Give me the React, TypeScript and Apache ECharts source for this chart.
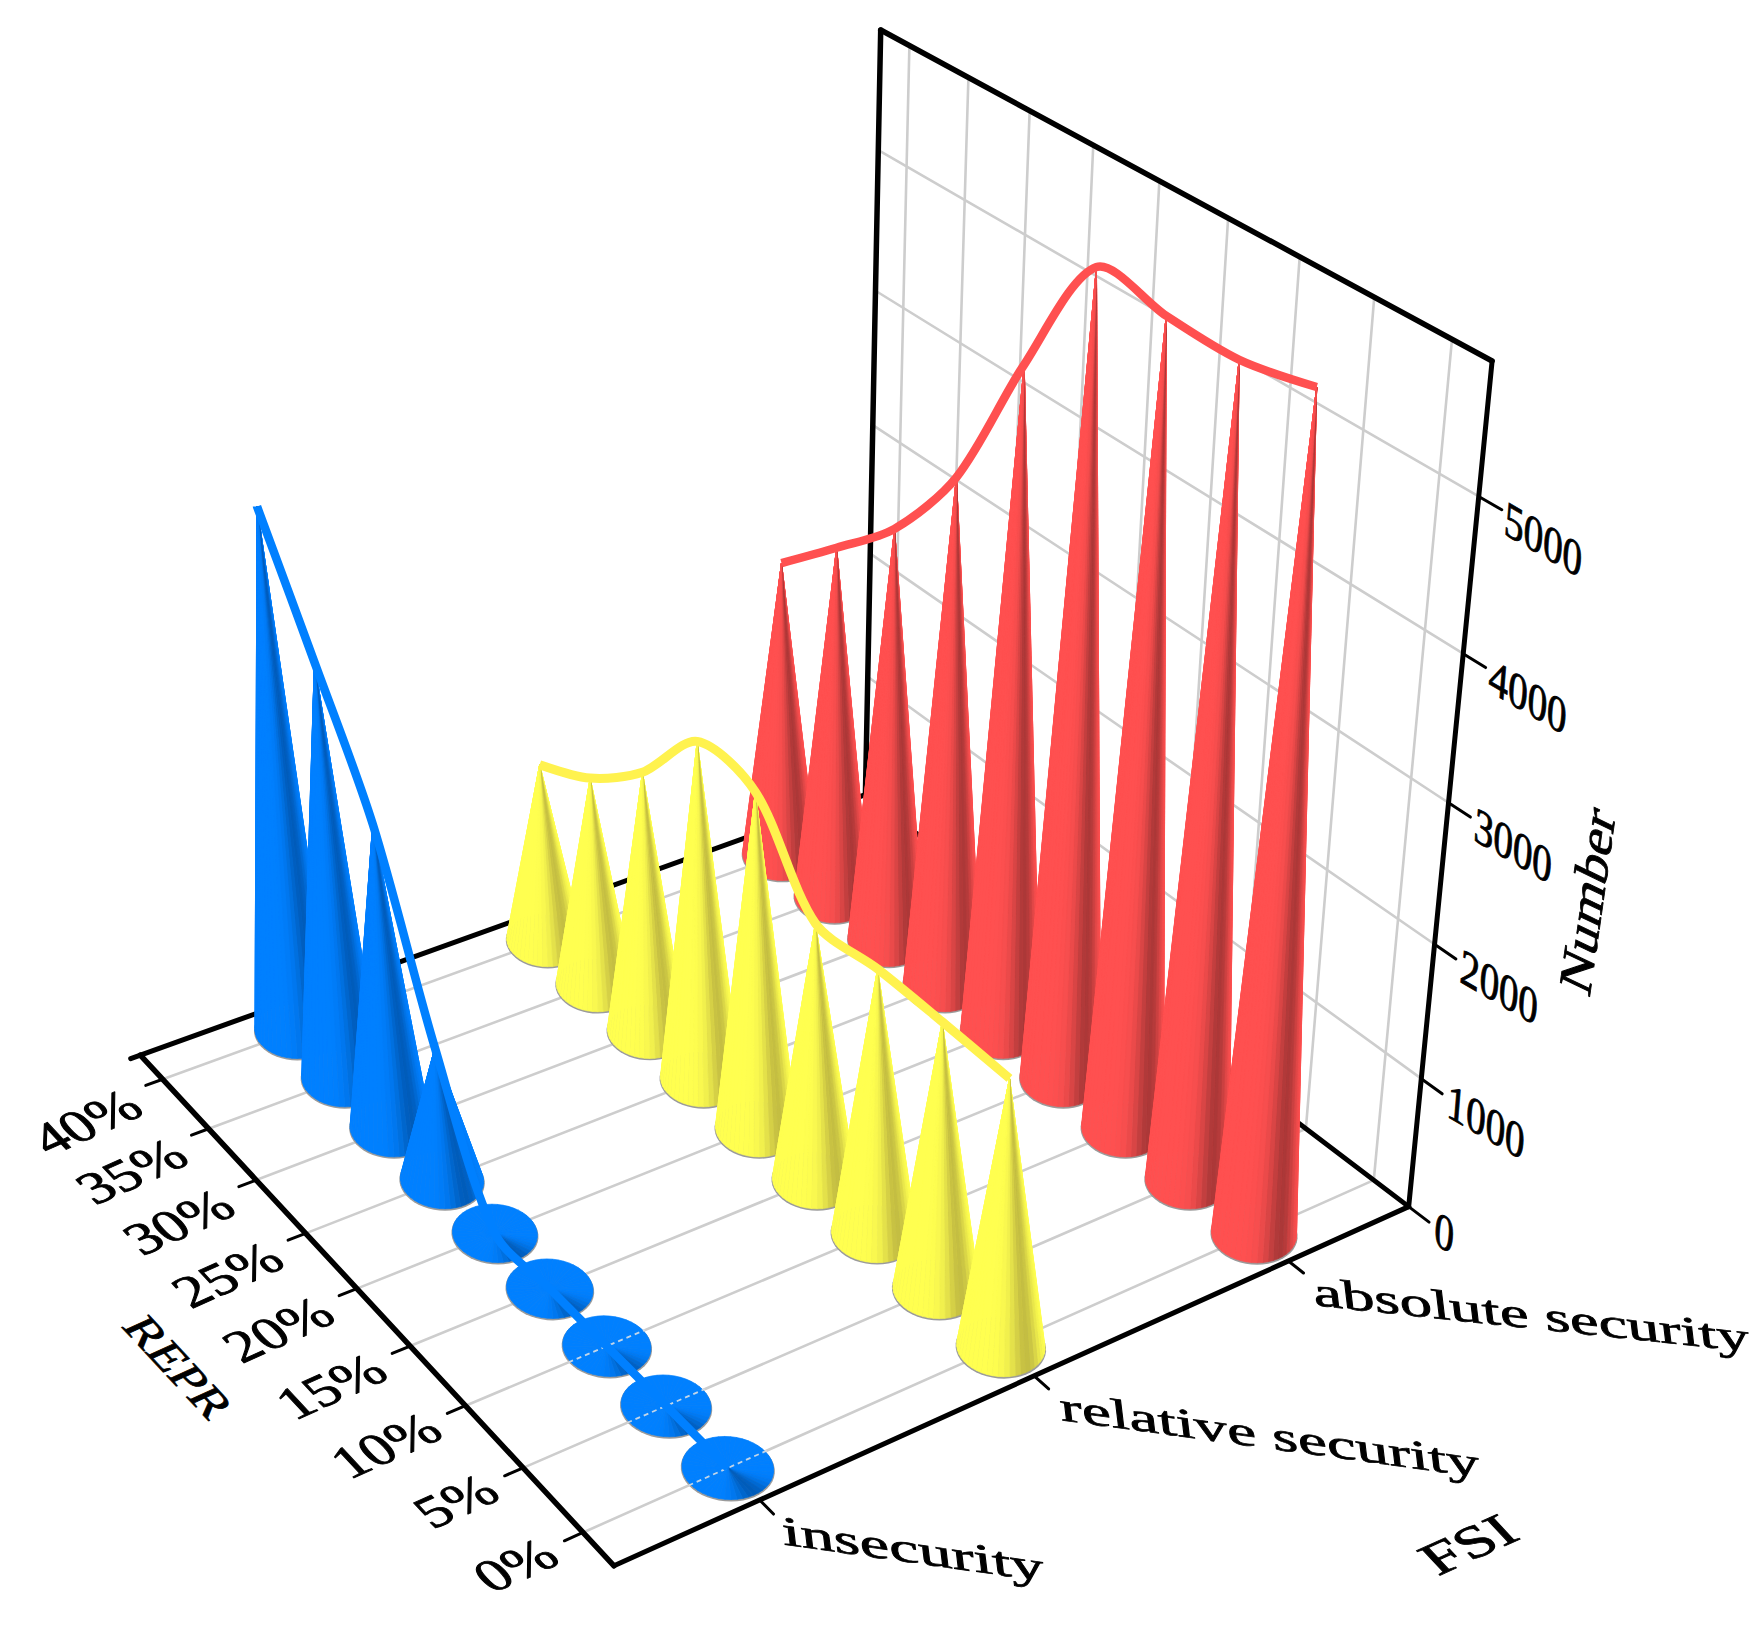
import React, { useEffect, useRef } from "react";
import * as echarts from "echarts";

// ---------- data ----------
const fsiCategories = ["insecurity", "relative security", "absolute security"];
const reprCategories = ["0%", "5%", "10%", "15%", "20%", "25%", "30%", "35%", "40%"];
const numberTicks = [0, 1000, 2000, 3000, 4000, 5000];
const insecurityValues = [0, 0, 0, 0, 0, 1040, 2340, 3170, 3950];
const relativeValues = [2000, 2010, 2010, 1970, 2570, 2600, 2040, 1660, 1430];
const absoluteValues = [5800, 5700, 5710, 5760, 4890, 3860, 3210, 2780, 2370];
const seriesValues = [insecurityValues, relativeValues, absoluteValues];
const numberMax = 5820;

// ---------- camera (reference units, scaled by S) ----------
const S = 1760 / 1568;
const A = [547, 1395];
const B = [125, 940];
const C = [1255, 1075];
const D = [771, 708];
const dzY = -153.9;
const kz = -0.0271;

const den = (C[0] - D[0]) * (B[1] - D[1]) - (B[0] - D[0]) * (C[1] - D[1]);
const sx0 = A[0] - C[0] + D[0] - B[0];
const sy0 = A[1] - C[1] + D[1] - B[1];
const g = (sx0 * (B[1] - D[1]) - (B[0] - D[0]) * sy0) / den;
const h = ((C[0] - D[0]) * sy0 - sx0 * (C[1] - D[1])) / den;

function depth(u: number, v: number, z: number) {
  return 1 + g * u + h * v + (kz * z) / 1000;
}
function project(u: number, v: number, z: number): number[] {
  const w = depth(u, v, z);
  const t = z / 1000;
  const dzX = -19.18 - 2.52 * u + 3.5 * v;
  const X = A[0] + u * ((1 + g) * C[0] - A[0]) + v * ((1 + h) * B[0] - A[0]) + dzX * t;
  const Y = A[1] + u * ((1 + g) * C[1] - A[1]) + v * ((1 + h) * B[1] - A[1]) + dzY * t;
  return [(X / w) * S, (Y / w) * S];
}
const fsiU = (i: number) => (i + 0.5) / fsiCategories.length;
const reprV = (i: number) => (i + 0.5) / reprCategories.length;

// ---------- helpers ----------
function seg(p: number[], q: number[], stroke: string, lineWidth: number, extra: any = {}) {
  return {
    type: "line",
    shape: { x1: p[0], y1: p[1], x2: q[0], y2: q[1] },
    style: { stroke, lineWidth, lineCap: "round", ...extra },
  };
}

function placeText(text: string, o: number[], e1: number[], e2: number[], align: string, extra: any = {}) {
  const F = 40;
  const a = e1[0] / F, b = -e2[0] / F, c = e1[1] / F, d = -e2[1] / F;
  const E = (a + d) / 2, Fv = (a - d) / 2, G = (c + b) / 2, H = (c - b) / 2;
  const Q = Math.hypot(E, H), R = Math.hypot(Fv, G);
  const a1 = Math.atan2(G, Fv), a2 = Math.atan2(H, E);
  const theta = (a2 - a1) / 2, phi = (a2 + a1) / 2;
  return {
    type: "group",
    x: o[0],
    y: o[1],
    rotation: -phi,
    scaleX: Q + R,
    scaleY: Q - R,
    children: [
      {
        type: "text",
        rotation: -theta,
        style: {
          text,
          x: 0,
          y: 0,
          fill: "#000",
          stroke: "#000",
          lineWidth: 0.7,
          fontSize: F,
          fontFamily: "'Liberation Serif'",
          align,
          verticalAlign: "middle",
          ...extra,
        },
      },
    ],
  };
}
const vs = (p: number[], s: number) => [p[0] * s, p[1] * s];
const off = (p: number[], dx: number, dy: number) => [p[0] + dx * S, p[1] + dy * S];

const GRID = "#cdcdcd";
function renderFrame() {
  const ch: any[] = [];
  // wall grid
  reprCategories.forEach((_, i) => {
    ch.push(seg(project(1, reprV(i), 0), project(1, reprV(i), numberMax), GRID, 2.6));
  });
  numberTicks.forEach((t) => {
    if (t > 0) ch.push(seg(project(1, 0, t), project(1, 1, t), GRID, 2.6));
  });
  // floor grid
  reprCategories.forEach((_, i) => {
    ch.push(seg(project(0, reprV(i), 0), project(1, reprV(i), 0), GRID, 2.6));
  });
  // axes
  ch.push(seg(project(-0.012, 1, 0), project(1, 1, 0), "#000", 5));
  ch.push(seg(project(1, 1, 0), project(1, 0, 0), "#000", 5));
  ch.push(seg(project(1, 1, 0), project(1, 1, numberMax), "#000", 5.5));
  ch.push(seg(project(1, 1, numberMax), project(1, 0, numberMax), "#000", 5.5));
  ch.push(seg(project(1, 0, numberMax), project(1, 0, 0), "#000", 5));
  ch.push(seg(project(0, 0, 0), project(0, 1, 0), "#000", 5.5));
  ch.push(seg(project(0, 0, 0), project(1, 0, 0), "#000", 5));

  // REPR ticks and labels
  reprCategories.forEach((label, i) => {
    const v = reprV(i);
    const base = project(0, v, 0);
    ch.push(seg(base, project(-0.021, v, 0), "#000", 3));
    ch.push(
      placeText(label, off(base, -29 + i * 0.5, 19 - (8 - i) * 0.5), [0.91 * 58, -0.41 * 58], [-0.68 * 52, -0.73 * 52], "right")
    );
  });
  // FSI ticks and labels
  const fsiE1 = [
    [0.99, 0.14],
    [0.99, 0.135],
    [0.994, 0.106],
  ];
  const fsiEm = [67, 66, 65];
  const fsiDx = [20, 23, 22];
  fsiCategories.forEach((label, i) => {
    const u = fsiU(i);
    const base = project(u, 0, 0);
    ch.push(seg(base, project(u, -0.024, 0), "#000", 3));
    ch.push(
      placeText(label, off(base, fsiDx[i], 27), vs(fsiE1[i], fsiEm[i]), [-0.12 * 42, -0.99 * 42], "left")
    );
  });
  // Number ticks and labels
  numberTicks.forEach((t) => {
    const base = project(1, 0, t);
    ch.push(seg(base, project(1, -0.032, t), "#000", 3));
    ch.push(
      placeText(String(t), off(base, 23, 18), [0.86 * 45, 0.5 * 45], [0.08 * 50, -0.99 * 50], "left")
    );
  });
  // axis titles
  ch.push(placeText("REPR", vs([159, 1218], S), [0.68 * 52, 0.73 * 52], [0.91 * 46, -0.41 * 46], "center"));
  ch.push(placeText("FSI", vs([1308, 1376], S), [0.91 * 64, -0.41 * 64], [-0.68 * 52, -0.73 * 52], "center"));
  ch.push(placeText("Number", vs([1414, 802], S), [0.14 * 56, -0.99 * 56], [-0.9 * 50, -0.43 * 50], "center"));
  return { type: "group", children: ch };
}

const palettes = [
  { main: [0, 128, 255], dark: [0, 92, 186], line: "#0080FF", lw: 8.5 },
  { main: [255, 255, 80], dark: [196, 190, 66], line: "#FFF24E", lw: 9 },
  { main: [255, 80, 80], dark: [172, 56, 56], line: "#FF5050", lw: 8.5 },
];

function mix(a: number[], b: number[], t: number) {
  const c = a.map((x, i) => Math.round(x + (b[i] - x) * t));
  return `rgb(${c[0]},${c[1]},${c[2]})`;
}

const SEGS = 48;
const TILT = (5 * Math.PI) / 180;
function renderCone(si: number, ri: number, value: number) {
  const u = fsiU(si), v = reprV(ri);
  const p = palettes[si];
  const c = project(u, v, 0);
  const apex = project(u, v, value);
  const s = (S * 1.03) / depth(u, v, 0);
  const rx = 41 * s, ry = 28 * s;
  const pt = (th: number, e = 1, oy = 0) => {
    const ex = rx * e * Math.cos(th), ey = ry * e * Math.sin(th);
    return [
      c[0] + ex * Math.cos(TILT) - ey * Math.sin(TILT),
      c[1] + ex * Math.sin(TILT) + ey * Math.cos(TILT) + oy,
    ];
  };
  const rim: number[][] = [];
  for (let k = 0; k < SEGS; k++) rim.push(pt((2 * Math.PI * k) / SEGS, 1.025, 1.2));
  const ch: any[] = [{ type: "polygon", shape: { points: rim }, style: { fill: "#9b9b9b" } }];
  const tris: { y: number; el: any }[] = [];
  for (let k = 0; k < SEGS; k++) {
    const a0 = (2 * Math.PI * k) / SEGS, a1 = (2 * Math.PI * (k + 1)) / SEGS;
    const am = (a0 + a1) / 2;
    let diff = ((am * 180) / Math.PI - 50) % 360;
    if (diff > 180) diff -= 360;
    const dk = Math.exp(-((diff / 24) * (diff / 24)));
    const col = mix(p.main, p.dark, dk);
    const q0 = pt(a0), q1 = pt(a1);
    tris.push({
      y: (q0[1] + q1[1]) / 2,
      el: {
        type: "polygon",
        shape: { points: [apex, q0, q1] },
        style: { fill: col, stroke: col, lineWidth: 0.7, lineJoin: "round" },
      },
    });
  }
  tris.sort((x, y) => x.y - y.y);
  tris.forEach((t) => ch.push(t.el));
  if (value === 0 && ri <= 2) {
    ch.push(
      seg(project(u - 0.046, v, 0), project(u + 0.046, v, 0), "rgba(215,222,230,0.9)", 1.8, {
        lineDash: [5, 4],
        lineCap: "butt",
      })
    );
  }
  return { type: "group", children: ch };
}

function renderLine(si: number) {
  const values = seriesValues[si];
  const pts = values.map((val, ri) => project(fsiU(si), reprV(ri), val));
  return {
    type: "polyline",
    shape: { points: pts, smooth: 0.3 },
    style: { stroke: palettes[si].line, lineWidth: palettes[si].lw, fill: "none", lineJoin: "round" },
  };
}

function coneSeries(si: number) {
  const rows: number[][] = [];
  for (let ri = reprCategories.length - 1; ri >= 0; ri--) rows.push([ri, seriesValues[si][ri]]);
  return {
    type: "custom",
    name: fsiCategories[si],
    coordinateSystem: "none",
    silent: true,
    z: 2,
    data: rows,
    renderItem: (_: any, api: any) => renderCone(si, api.value(0), api.value(1)),
  };
}
function lineSeries(si: number) {
  return {
    type: "custom",
    name: fsiCategories[si] + " line",
    coordinateSystem: "none",
    silent: true,
    z: 2,
    data: [[si]],
    renderItem: () => renderLine(si),
  };
}

export default function App() {
  const ref = useRef<HTMLDivElement>(null);
  useEffect(() => {
    document.body.style.margin = "0";
    const chart = echarts.init(ref.current!, undefined, { renderer: "svg" });
    chart.setOption({
      animation: false,
      backgroundColor: "#ffffff",
      series: [
        {
          type: "custom",
          name: "frame",
          coordinateSystem: "none",
          silent: true,
          z: 1,
          data: [[0]],
          renderItem: () => renderFrame(),
        },
        coneSeries(2),
        lineSeries(2),
        coneSeries(1),
        lineSeries(1),
        coneSeries(0),
        lineSeries(0),
      ],
    });
    return () => chart.dispose();
  }, []);
  return <div ref={ref} style={{ position: "absolute", left: 0, top: 0, width: 1760, height: 1626 }} />;
}
